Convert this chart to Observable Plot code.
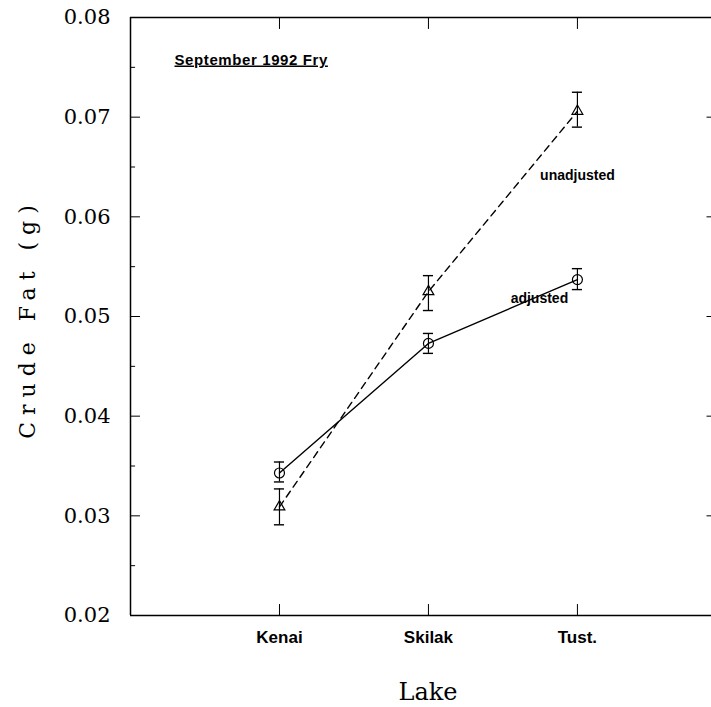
<!DOCTYPE html>
<html><head><meta charset="utf-8">
<script src="https://cdn.jsdelivr.net/npm/d3@7"></script>
<script src="https://cdn.jsdelivr.net/npm/@observablehq/plot@0.6"></script>
<style>body{margin:0;background:#fff}</style>
</head><body><div id="chart"></div>
<script>
const lakes = ["Kenai", "Skilak", "Tust."];
const seriesNames = ["adjusted", "unadjusted"];
const adjMean = [0.0343, 0.0473, 0.0537];
const adjLow = [0.0334, 0.0463, 0.0527];
const adjHigh = [0.0354, 0.0483, 0.0548];
const unadjMean = [0.0309, 0.0525, 0.0706];
const unadjLow = [0.0291, 0.0506, 0.0690];
const unadjHigh = [0.0327, 0.0541, 0.0725];
const yTicks = [0.02, 0.03, 0.04, 0.05, 0.06, 0.07, 0.08];
const yMinor = [0.025, 0.035, 0.045, 0.055, 0.065, 0.075];
const title = "September 1992 Fry";
const xTitle = "Lake";
const yTitle = "Crude Fat (g)";

const adj = lakes.map((lake, i) => ({lake, pos: i + 1, series: seriesNames[0], mean: adjMean[i], lo: adjLow[i], hi: adjHigh[i]}));
const un = lakes.map((lake, i) => ({lake, pos: i + 1, series: seriesNames[1], mean: unadjMean[i], lo: unadjLow[i], hi: unadjHigh[i]}));
const rows = adj.concat(un);

const xDomain = [0, 3.9];
const yDomain = [0.02, 0.08];
const cap = 0.034;
const bold = "'Liberation Sans', Arial, sans-serif";
const serif = "'DejaVu Serif', serif";

const chart = Plot.plot({
  width: 711, height: 707,
  marginLeft: 130, marginRight: 0, marginTop: 17, marginBottom: 92,
  x: {domain: xDomain, axis: null},
  y: {domain: yDomain, axis: null},
  style: {background: "white", color: "black"},
  marks: [
    Plot.ruleX([xDomain[0]], {stroke: "black", strokeWidth: 1.5}),
    Plot.ruleY(yDomain, {stroke: "black", strokeWidth: 1.5}),
    Plot.ruleY(yTicks, {y: d => d, x1: xDomain[0], x2: xDomain[0] + 0.067, stroke: "black"}),
    Plot.ruleY(yMinor, {y: d => d, x1: xDomain[0], x2: xDomain[0] + 0.034, stroke: "black"}),
    Plot.ruleY(yTicks.slice(1, -1), {y: d => d, x1: xDomain[1] - 0.03, x2: xDomain[1], stroke: "black"}),
    Plot.ruleX(adj, {x: "pos", y1: yDomain[1], y2: yDomain[1] - 0.0012, stroke: "black"}),
    Plot.ruleX(adj, {x: "pos", y1: yDomain[0], y2: yDomain[0] + 0.0011, stroke: "black"}),
    Plot.text(yTicks, {x: xDomain[0], y: d => d, text: d => d.toFixed(2), textAnchor: "end", dx: -20, fontFamily: serif, fontSize: 21, fill: "black"}),
    Plot.text(lakes, {x: (d, i) => i + 1, y: yDomain[0], text: d => d, dy: 22, fontFamily: bold, fontWeight: "bold", fontSize: 17, fill: "black"}),
    Plot.text([xTitle], {frameAnchor: "bottom", text: d => d, dx: 7, dy: 84, fontFamily: serif, fontSize: 24, fill: "black"}),
    Plot.text([yTitle], {frameAnchor: "left", text: d => d, textAnchor: "middle", rotate: -90, dx: -103, dy: 2, fontFamily: serif, fontSize: 22, fill: "black"}),
    Plot.line(adj, {x: "pos", y: "mean", stroke: "black", strokeWidth: 1.4}),
    Plot.line(un, {x: "pos", y: "mean", stroke: "black", strokeWidth: 1.4, strokeDasharray: "7,5"}),
    Plot.ruleX(rows, {x: "pos", y1: "lo", y2: "hi", stroke: "black", strokeWidth: 1.2}),
    Plot.ruleY(rows, {y: "lo", x1: d => d.pos - cap, x2: d => d.pos + cap, stroke: "black", strokeWidth: 1.4}),
    Plot.ruleY(rows, {y: "hi", x1: d => d.pos - cap, x2: d => d.pos + cap, stroke: "black", strokeWidth: 1.4}),
    Plot.dot(adj, {x: "pos", y: "mean", r: 5, symbol: "circle", stroke: "black", fill: "none", strokeWidth: 1.2}),
    Plot.dot(un, {x: "pos", y: "mean", r: 4, symbol: "triangle", stroke: "black", fill: "none", strokeWidth: 1.2}),
    Plot.text(un.slice(-1), {x: "pos", y: "mean", text: "series", dy: 64, fontFamily: bold, fontWeight: "bold", fontSize: 14, fill: "black"}),
    Plot.text(adj.slice(-1), {x: "pos", y: "mean", text: "series", dx: -38, dy: 19, fontFamily: bold, fontWeight: "bold", fontSize: 14, fill: "black"}),
    Plot.text([title], {frameAnchor: "top-left", text: d => d, textAnchor: "start", lineAnchor: "bottom", dx: 44, dy: 47, fontFamily: bold, fontWeight: "bold", fontSize: 15, fill: "black"})
  ]
});
document.getElementById("chart").appendChild(chart);
const svg = d3.select(chart);
svg.selectAll("text").filter(function() { return this.textContent === title; })
  .attr("text-decoration", "underline").attr("letter-spacing", "0.6px");
svg.selectAll("text").filter(function() { return this.textContent === yTitle; })
  .attr("letter-spacing", "7px");
</script>
</body></html>
